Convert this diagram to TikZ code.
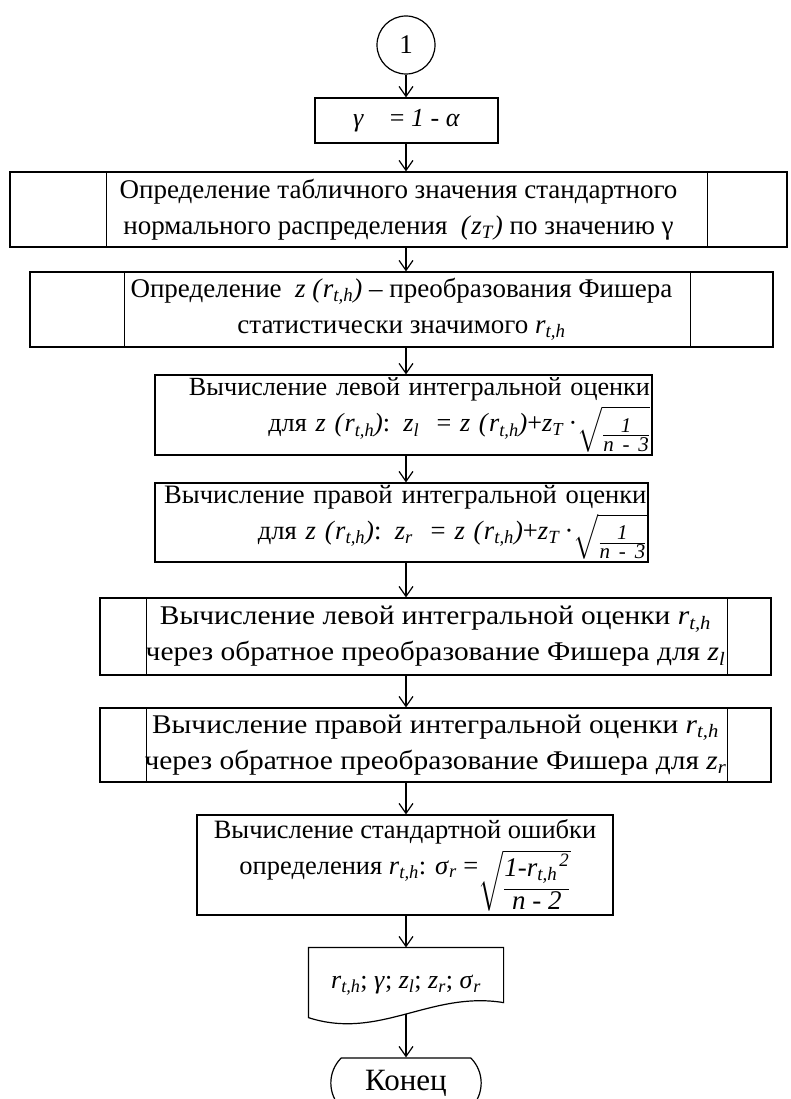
\documentclass[tikz,border=0pt]{standalone}
\usepackage{amsmath}
\usepackage{fontspec}
\setmainfont{Liberation Serif}
\newfontfamily\wideserif{Liberation Serif}[FakeStretch=1.09]
\usetikzlibrary{arrows.meta,shapes.misc}

\newcommand{\rth}{\textit{r}\textsubscript{\textit{t,h}}}
\newcommand{\zsub}[1]{\textit{z}\textsubscript{\textit{#1}}}
\newcommand{\zrth}{\textit{z (}\rth\textit{)}}
\newcommand{\fracfont}{\fontsize{21}{21}\selectfont}
% корень с дробью: [шрифт] числитель, знаменатель, высота и глубина числителя,
% высота знаменателя, опускание
\newcommand{\wroot}[7][\fracfont]{%
  \raisebox{-#7}{\smash[t]{$\sqrt{\tfrac
    {\mbox{#1\rule{0pt}{#4}\rule[-#5]{0pt}{#5}\textit{#2}}}
    {\mbox{#1\rule{0pt}{#6}\textit{#3}}}}$}}}

\begin{document}
\begin{tikzpicture}[
    x=1pt,
    y=-1pt,
    font=\fontsize{27}{36}\selectfont,
    line width=1.2pt,
    blk/.style={draw, rectangle, align=center, inner sep=0pt},
    arr/.style={-{Straight Barb[length=10pt,width=14pt]}, line width=1.2pt}
  ]
    \useasboundingbox (0,0) rectangle (790,1099);

    % Соединитель
    \node[draw, circle, minimum size=58pt, inner sep=0pt] (c1) at (406,45) {1};

    % --- gamma ---
    \node[blk, minimum width=183pt, minimum height=45pt,
      font=\fontsize{26}{30}\selectfont] (b1) at (406.5,120.5)
      {\textit{γ}\quad= \textit{1} - \textit{α}};

    % --- z_T (предопределённый процесс) ---
    \node[blk, minimum width=777pt, minimum height=75pt] (b2) at (398.5,209.5)
      {Определение табличного значения стандартного\\
       нормального распределения \ \textit{(}\zsub{T}\textit{)} по значению γ};
    \draw ([xshift=97pt]b2.north west) -- ([xshift=97pt]b2.south west);
    \draw ([xshift=-80pt]b2.north east) -- ([xshift=-80pt]b2.south east);

    % --- z(r) (предопределённый процесс) ---
    \node[blk, minimum width=743pt, minimum height=75pt] (b3) at (401.5,309.5)
      {Определение \ \zrth{} – преобразования Фишера\\
       статистически значимого \rth};
    \draw ([xshift=95pt]b3.north west) -- ([xshift=95pt]b3.south west);
    \draw ([xshift=-83pt]b3.north east) -- ([xshift=-83pt]b3.south east);

    % --- z_l ---
    \node[blk, minimum width=497pt, minimum height=80pt, text width=493pt,
      align=right, font=\fontsize{26.2}{36}\selectfont] (b4) at (403.5,415)
      {Вычисление левой интегральной оценки\\
       для \zrth: \zsub{l} \ = \zrth+\zsub{T}\,·%
       \wroot{1}{n - 3}{22pt}{0pt}{0pt}{10pt}\hspace*{8pt}};

    % --- z_r ---
    \node[blk, minimum width=493pt, minimum height=79pt, text width=490pt,
      align=right, font=\fontsize{26.6}{36}\selectfont] (b5) at (401.5,522.5)
      {Вычисление правой интегральной оценки\\
       для \zrth: \zsub{r} \ = \zrth+\zsub{T}\,·%
       \wroot{1}{n - 3}{22pt}{0pt}{0pt}{10pt}\hspace*{6pt}};

    % --- левая оценка r (предопределённый процесс) ---
    \node[blk, minimum width=671pt, minimum height=77pt,
      font=\wideserif\fontsize{27}{36}\selectfont] (b6) at (435.5,636.5)
      {Вычисление левой интегральной оценки \rth\\
       через обратное преобразование Фишера для \zsub{l}};
    \draw ([xshift=47pt]b6.north west) -- ([xshift=47pt]b6.south west);
    \draw ([xshift=-44pt]b6.north east) -- ([xshift=-44pt]b6.south east);

    % --- правая оценка r (предопределённый процесс) ---
    \node[blk, minimum width=671pt, minimum height=74pt,
      font=\wideserif\fontsize{27}{36}\selectfont] (b7) at (435.5,745)
      {Вычисление правой интегральной оценки \rth\\
       через обратное преобразование Фишера для \zsub{r}};
    \draw ([xshift=47pt]b7.north west) -- ([xshift=47pt]b7.south west);
    \draw ([xshift=-44pt]b7.north east) -- ([xshift=-44pt]b7.south east);

    % --- sigma ---
    \node[blk, minimum width=416pt, minimum height=100pt,
      font=\fontsize{26.5}{36}\selectfont] (b8) at (405,865)
      {Вычисление стандартной ошибки\\
       определения \rth: \textit{σ}\textsubscript{\textit{r}} =%
       \wroot[\fontsize{27}{27}\selectfont]{1-\rth\hspace{2pt}\textsuperscript{2}}%
         {n - 2}{0pt}{12.4pt}{18.4pt}{22pt}};

    % Документ (вывод)
    \node[inner sep=0pt, minimum width=194pt, minimum height=74pt,
      font=\fontsize{26}{30}\selectfont] (res) at (406,985)
      {\rth; \textit{γ}; \zsub{l}; \zsub{r}; \textit{σ}\textsubscript{\textit{r}}};
    \draw (res.north west) -- (res.north east) -- ([yshift=20pt]res.south east)
      .. controls ([xshift=-73pt,yshift=32pt]res.south east)
      and ([xshift=71pt,yshift=-18pt]res.south west) .. ([yshift=5pt]res.south west)
      -- cycle;
    \coordinate (res-b) at ([yshift=9pt]res.south);

    % Конец
    \node[draw, rounded rectangle, rounded rectangle arc length=90,
      minimum width=157pt, minimum height=50pt,
      font=\fontsize{31}{34}\selectfont] (fin) at (406,1083) {Конец};

    % Стрелки
    \draw[arr] (c1) -- (b1.north -| c1);
    \draw[arr] (b1.south -| c1) -- (b2.north -| c1);
    \draw[arr] (b2.south -| c1) -- (b3.north -| c1);
    \draw[arr] (b3.south -| c1) -- (b4.north -| c1);
    \draw[arr] (b4.south -| c1) -- (b5.north -| c1);
    \draw[arr] (b5.south -| c1) -- (b6.north -| c1);
    \draw[arr] (b6.south -| c1) -- (b7.north -| c1);
    \draw[arr] (b7.south -| c1) -- (b8.north -| c1);
    \draw[arr] (b8.south -| c1) -- (res.north -| c1);
    \draw[arr] (res-b) -- (fin.north -| c1);
  \end{tikzpicture}
\end{document}
